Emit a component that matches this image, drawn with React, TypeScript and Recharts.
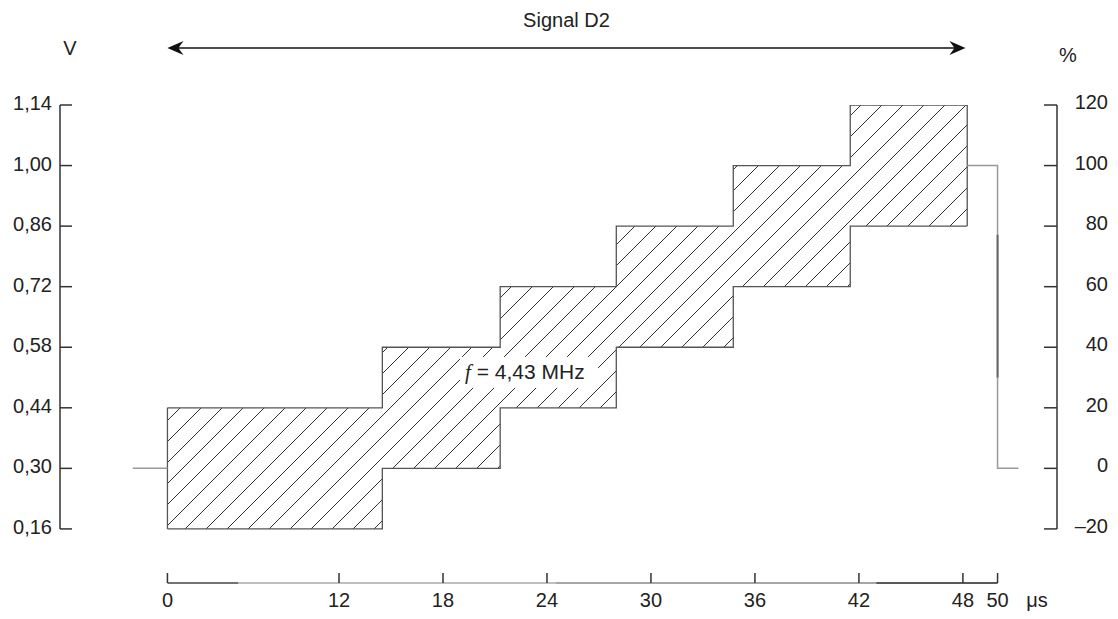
import React from 'react';
import { ComposedChart, Area, Line, XAxis, YAxis, ReferenceLine, ReferenceDot, Label } from 'recharts';

// ---- data (time in µs along the drawn axis, amplitude in V) ----
const stepStarts = [2.1, 14.5, 21.3, 28.0, 34.75, 41.5];
const signalEnd = 48.25;
const stepLow = [0.16, 0.30, 0.44, 0.58, 0.72, 0.86];
const stepHigh = [0.44, 0.58, 0.72, 0.86, 1.0, 1.14];
const leadLine = [{ t: 0.1, v: 0.30 }, { t: 2.1, v: 0.30 }];
const tailLine = [
  { t: 48.25, v: 1.0 },
  { t: 50.0, v: 1.0 },
  { t: 50.0, v: 0.30 },
  { t: 51.2, v: 0.30 },
];
const tailDark = [{ t: 50.0, v: 0.84 }, { t: 50.0, v: 0.51 }];
const leftEdge = [{ t: 2.1, v: 0.16 }, { t: 2.1, v: 0.44 }];
const rightEdge = [{ t: 48.25, v: 0.86 }, { t: 48.25, v: 1.14 }];

const vTicks = [0.16, 0.30, 0.44, 0.58, 0.72, 0.86, 1.0, 1.14];
const pctTicks = [-20, 0, 20, 40, 60, 80, 100, 120];
const xTickPos = [2.1, 12, 18, 24, 30, 36, 42, 48, 50];
const xTickLabels = ['0', '12', '18', '24', '30', '36', '42', '48', '50'];

const xDomain = [-4.1, 53.43];
const vDomain = [0.035, 1.14];
const pDomain = [-37.86, 120];
const arrowV = 1.272;
const freqLabelPos = { t: 22.85, v: 0.523 };

const table = [
  ...stepStarts.map((t, i) => ({ t, range: [stepLow[i], stepHigh[i]] })),
  { t: signalEnd, range: [stepLow[stepLow.length - 1], stepHigh[stepHigh.length - 1]] },
];

const FONT = 'Liberation Sans, Arial, Helvetica, sans-serif';
const TXT = '#222';
const FS = 20;

const LeftTick = (p: any) => {
  const { x, y, payload } = p;
  const s = Number(payload.value).toFixed(2).replace('.', ',');
  return (
    <g>
      <line x1={x} y1={y} x2={x + 12} y2={y} stroke="#333" strokeWidth={1.5} />
      <text x={x - 8} y={y + 5} textAnchor="end" fontSize={FS} fontFamily={FONT} fill={TXT}>{s}</text>
    </g>
  );
};

const RightTick = (p: any) => {
  const { x, y, payload } = p;
  const v = Number(payload.value);
  const s = v < 0 ? `\u2013${-v}` : `${v}`;
  return (
    <g>
      <line x1={x - 13} y1={y} x2={x} y2={y} stroke="#333" strokeWidth={1.5} />
      <text x={x + 51} y={y + 4} textAnchor="end" fontSize={FS} fontFamily={FONT} fill={TXT}>{s}</text>
    </g>
  );
};

const BottomTick = (p: any) => {
  const { x, y, payload } = p;
  const idx = xTickPos.indexOf(payload.value);
  return (
    <g>
      <line x1={x} y1={y} x2={x} y2={y - 10} stroke="#333" strokeWidth={1.5} />
      <text x={x} y={y + 24} textAnchor="middle" fontSize={FS} fontFamily={FONT} fill={TXT}>
        {idx >= 0 ? xTickLabels[idx] : ''}
      </text>
    </g>
  );
};

const ArrowShape = (p: any) => {
  const { x1, y1, x2 } = p;
  const y = y1;
  const mid = (x1 + x2) / 2;
  return (
    <g>
      <line x1={x1 + 4} y1={y} x2={x2 - 4} y2={y} stroke="#111" strokeWidth={1.5} />
      <polygon points={`${x1},${y} ${x1 + 16},${y - 7} ${x1 + 11},${y} ${x1 + 16},${y + 7}`} fill="#111" />
      <polygon points={`${x2},${y} ${x2 - 16},${y - 7} ${x2 - 11},${y} ${x2 - 16},${y + 7}`} fill="#111" />
      <text x={mid} y={y - 21} textAnchor="middle" fontSize={20} fontFamily={FONT} fill={TXT}>Signal D2</text>
    </g>
  );
};

const FreqLabel = (p: any) => {
  const { cx, cy } = p;
  return (
    <g>
      <rect x={cx - 67} y={cy - 15} width={138} height={31} fill="#fff" />
      <text x={cx - 62} y={cy + 7} fontSize={21} fontFamily={FONT} fill={TXT}>
        <tspan fontFamily="Liberation Serif, Times New Roman, serif" fontStyle="italic">f</tspan>
        <tspan> = 4,43 MHz</tspan>
      </text>
    </g>
  );
};

export default function App() {
  return (
    <div style={{ position: 'absolute', left: 0, top: 0, width: 1118, height: 619, background: '#fff' }}>
      <ComposedChart
        width={1118}
        height={619}
        data={table}
        margin={{ top: 105, right: 60, bottom: 35, left: 59 }}
        style={{ fontFamily: FONT }}
      >
        <defs>
          <pattern id="hatch" patternUnits="userSpaceOnUse" width={21} height={21}>
            <path d="M0,21 L21,0 M-6,6 L6,-6 M15,27 L27,15" stroke="#333" strokeWidth={1} />
          </pattern>
        </defs>
        <XAxis
          dataKey="t"
          type="number"
          domain={xDomain}
          allowDataOverflow
          ticks={xTickPos}
          interval={0}
          height={1}
          tickSize={0}
          tickMargin={0}
          axisLine={false}
          tickLine={false}
          tick={BottomTick}
        >
          <Label
            content={(p: any) => {
              const vb = p.viewBox;
              return (
                <text x={vb.x + vb.width - 20} y={vb.y + 24} textAnchor="middle" fontSize={FS} fontFamily={FONT} fill={TXT}>
                  μs
                </text>
              );
            }}
          />
        </XAxis>
        <YAxis
          yAxisId="v"
          orientation="left"
          type="number"
          domain={vDomain}
          allowDataOverflow
          ticks={vTicks}
          interval={0}
          width={1}
          tickSize={0}
          tickMargin={0}
          axisLine={false}
          tickLine={false}
          tick={LeftTick}
        >
          <Label
            content={(p: any) => {
              const vb = p.viewBox;
              return (
                <text x={vb.x + vb.width + 10} y={vb.y - 50} textAnchor="middle" fontSize={FS} fontFamily={FONT} fill={TXT}>
                  V
                </text>
              );
            }}
          />
        </YAxis>
        <YAxis
          yAxisId="p"
          orientation="right"
          type="number"
          domain={pDomain}
          allowDataOverflow
          ticks={pctTicks}
          interval={0}
          width={1}
          tickSize={0}
          tickMargin={0}
          axisLine={false}
          tickLine={false}
          tick={RightTick}
        >
          <Label
            content={(p: any) => {
              const vb = p.viewBox;
              return (
                <text x={vb.x + 11} y={vb.y - 43} textAnchor="middle" fontSize={FS} fontFamily={FONT} fill={TXT}>
                  %
                </text>
              );
            }}
          />
        </YAxis>

        {/* axis lines */}
        <ReferenceLine yAxisId="v" ifOverflow="visible" stroke="#333" strokeWidth={1.5}
          segment={[{ x: xDomain[0], y: vTicks[0] }, { x: xDomain[0], y: vTicks[vTicks.length - 1] }]} />
        <ReferenceLine yAxisId="p" ifOverflow="visible" stroke="#333" strokeWidth={1.5}
          segment={[{ x: xDomain[1], y: pctTicks[0] }, { x: xDomain[1], y: pctTicks[pctTicks.length - 1] }]} />
        <ReferenceLine yAxisId="v" ifOverflow="visible" stroke="#444" strokeWidth={1.5}
          segment={[{ x: 2.1, y: vDomain[0] }, { x: 6.2, y: vDomain[0] }]} />
        <ReferenceLine yAxisId="v" ifOverflow="visible" stroke="#aaa" strokeWidth={1.5}
          segment={[{ x: 6.2, y: vDomain[0] }, { x: 24.5, y: vDomain[0] }]} />
        <ReferenceLine yAxisId="v" ifOverflow="visible" stroke="#888" strokeWidth={1.5}
          segment={[{ x: 24.5, y: vDomain[0] }, { x: 43.0, y: vDomain[0] }]} />
        <ReferenceLine yAxisId="v" ifOverflow="visible" stroke="#222" strokeWidth={1.5}
          segment={[{ x: 43.0, y: vDomain[0] }, { x: 50, y: vDomain[0] }]} />

        {/* hatched staircase */}
        <Area
          yAxisId="v"
          dataKey="range"
          type="stepAfter"
          stroke="#555"
          strokeWidth={1.3}
          fill="url(#hatch)"
          fillOpacity={1}
          dot={false}
          activeDot={false}
          isAnimationActive={false}
        />
        <Line yAxisId="v" data={leftEdge} dataKey="v" type="linear" stroke="#555" strokeWidth={1.3} dot={false} activeDot={false} isAnimationActive={false} />
        <Line yAxisId="v" data={rightEdge} dataKey="v" type="linear" stroke="#555" strokeWidth={1.3} dot={false} activeDot={false} isAnimationActive={false} />
        <Line yAxisId="v" data={leadLine} dataKey="v" type="linear" stroke="#999" strokeWidth={1.5} dot={false} activeDot={false} isAnimationActive={false} />
        <Line yAxisId="v" data={tailLine} dataKey="v" type="linear" stroke="#999" strokeWidth={1.5} dot={false} activeDot={false} isAnimationActive={false} />
        <Line yAxisId="v" data={tailDark} dataKey="v" type="linear" stroke="#666" strokeWidth={2} dot={false} activeDot={false} isAnimationActive={false} />

        {/* annotations */}
        <ReferenceDot yAxisId="v" x={freqLabelPos.t} y={freqLabelPos.v} r={0} shape={FreqLabel} />
        <ReferenceLine yAxisId="v" ifOverflow="visible" shape={ArrowShape}
          segment={[{ x: stepStarts[0], y: arrowV }, { x: 48.15, y: arrowV }]} />
      </ComposedChart>
    </div>
  );
}
